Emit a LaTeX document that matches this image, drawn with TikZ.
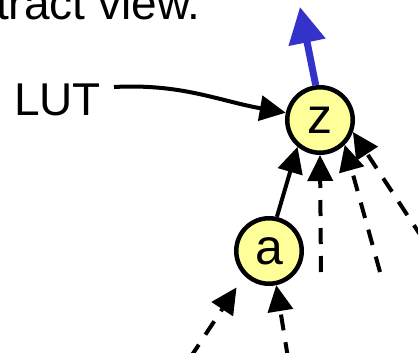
\documentclass[tikz,border=0pt]{standalone}
\usepackage{fontspec}
\setmainfont{Liberation Sans}
\usetikzlibrary{arrows.meta}
\definecolor{lutfill}{HTML}{FFFF99}
\definecolor{outblue}{HTML}{3333CC}
\begin{document}
\begin{tikzpicture}[x=1pt,y=-1pt,
  lutnode/.style={circle,draw=black,line width=4.5pt,fill=lutfill,
    minimum size=65.5pt,inner sep=0pt,font=\fontsize{50}{50}\selectfont},
  edge/.style={line width=4pt,-{Triangle[length=26pt,width=25pt]}},
  dashededge/.style={edge,dash pattern=on 16pt off 12pt},
  label/.style={inner sep=0pt,font=\fontsize{46}{46}\selectfont}]
\useasboundingbox (0,0) rectangle (418,353);
\clip (0,0) rectangle (418,353);

% heading, partly outside the frame
\node[label,anchor=base west] (title) at (-4,20) {tract view.};
\node[label,anchor=base west] (lut) at (14,115.5) {LUT};

% the two lookup tables
\node[lutnode] (z) at (320,120) {z};
\node[lutnode] (a) at (269,251) {a};

% free ends of the incoming signals
\coordinate (out) at (300,7);
\coordinate (lutstart) at (114,87);
\coordinate (inz1) at (321,272);
\coordinate (inz2) at (380,272);
\coordinate (inz3) at (438,262);
\coordinate (ina1) at (190,358);
\coordinate (ina2) at (288,358);

% output of z
\draw[outblue,line width=7pt,-{Triangle[length=36pt,width=36pt]}] (z.97) -- (out);

% label pointer
\draw[edge] (lutstart) to[out=3,in=170] (z.168);

% inputs
\draw[edge] (a.77) -- (z.230);
\draw[dashededge] (inz1) -- (z.270);
\draw[dashededge] (inz2) -- (z.-45);
\draw[dashededge] (inz3) -- (z.-20);
\draw[dashededge,shorten >=14pt] (ina1) -- (a.225);
\draw[dashededge] (ina2) -- (a.-78);
\end{tikzpicture}
\end{document}
